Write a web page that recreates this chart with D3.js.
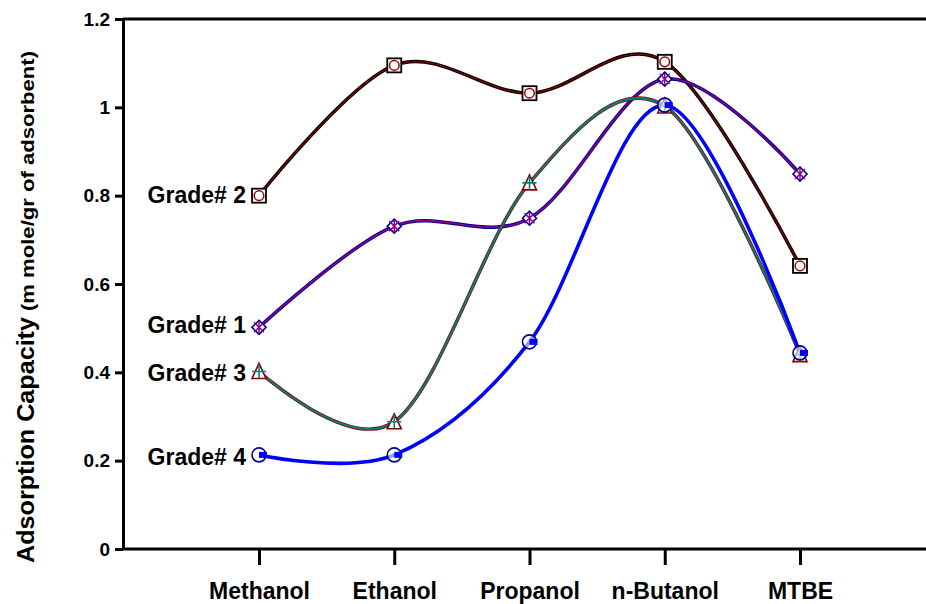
<!DOCTYPE html>
<html>
<head>
<meta charset="utf-8">
<script src="https://cdn.jsdelivr.net/npm/d3@7"></script>
<style>
  body { margin: 0; background: #fff; }
  svg text { font-family: Arial, "Liberation Sans", sans-serif; font-weight: bold; fill: #000; }
</style>
</head>
<body>
<div id="chart"></div>
<script>
"use strict";

// data
var categories = ["Methanol", "Ethanol", "Propanol", "n-Butanol", "MTBE"];
var grade1 = [0.502, 0.731, 0.749, 1.064, 0.849];
var grade2 = [0.8, 1.095, 1.032, 1.103, 0.641];
var grade3 = [0.402, 0.288, 0.829, 1.003, 0.44];
var grade4 = [0.213, 0.213, 0.469, 1.005, 0.444];
var yTicks = [0, 0.2, 0.4, 0.6, 0.8, 1, 1.2];

function renderChart() {
    var W = 926, H = 604;
    var svg = d3.select("#chart").append("svg")
        .attr("width", W)
        .attr("height", H);

    var left = 123, top = 19, bottom = 549;

    var x = d3.scalePoint().domain(categories).range([259, 800]),
        y = d3.scaleLinear().domain([0, 1.2]).range([bottom, top]);

    // top line of the frame
    svg.append("line")
        .attr("x1", left).attr("x2", W)
        .attr("y1", y(1.2)).attr("y2", y(1.2))
        .attr("stroke", "#000").attr("stroke-width", 3);

    // x axis
    var gx = svg.append("g")
        .attr("transform", "translate(0," + bottom + ")")
        .call(d3.axisBottom(x).tickSize(16).tickPadding(18).tickSizeOuter(0));
    gx.select(".domain").remove();
    gx.append("line").attr("x1", left).attr("x2", W)
        .attr("stroke", "#000").attr("stroke-width", 3);
    gx.selectAll(".tick line").attr("stroke-width", 3);
    gx.selectAll(".tick text").style("font-size", "23px").attr("fill", "#000");

    // y axis
    var gy = svg.append("g")
        .attr("transform", "translate(" + left + ",0)")
        .call(d3.axisLeft(y).tickValues(yTicks).tickFormat(d3.format("")).tickSize(8).tickPadding(5).tickSizeOuter(0));
    gy.select(".domain").attr("stroke-width", 3);
    gy.selectAll(".tick line").attr("stroke-width", 3);
    gy.selectAll(".tick text").style("font-size", "19px").attr("fill", "#000");

    // y title, two parts
    svg.append("text")
        .attr("transform", "translate(34,563) rotate(-90)")
        .attr("textLength", 246).attr("lengthAdjust", "spacingAndGlyphs")
        .style("font-size", "23px")
        .text("Adsorption Capacity");
    svg.append("text")
        .attr("transform", "translate(34,311) rotate(-90)")
        .attr("textLength", 260).attr("lengthAdjust", "spacingAndGlyphs")
        .style("font-size", "18px")
        .text("(m mole/gr of adsorbent)");

    var line = d3.line()
        .x(function (d, i) { return x(categories[i]); })
        .y(function (d) { return y(d); })
        .curve(d3.curveCardinal.tension(0));

    var series = [
        { name: "Grade# 2", vals: grade2, outer: "#000", inner: "#800000", ow: 3.5, iw: 1.3, dy: 7 },
        { name: "Grade# 1", vals: grade1, outer: "#00008b", inner: "#8b008b", ow: 3.5, iw: 1.6, dy: 6 },
        { name: "Grade# 3", vals: grade3, outer: "#8b0000", inner: "#008080", ow: 3.5, iw: 2, dy: 10 },
        { name: "Grade# 4", vals: grade4, outer: "#0000ff", inner: null, ow: 3.6, iw: 0, dy: 10 }
    ];

    series.forEach(function (s) {
        svg.append("path").datum(s.vals).attr("d", line)
            .attr("fill", "none").attr("stroke", s.outer).attr("stroke-width", s.ow);
        if (s.inner) {
            svg.append("path").datum(s.vals).attr("d", line)
                .attr("fill", "none").attr("stroke", s.inner).attr("stroke-width", s.iw);
        }
    });

    function pts(vals) {
        return vals.map(function (v, i) { return { x: x(categories[i]), y: y(v) }; });
    }
    function place(d) { return "translate(" + d.x + "," + d.y + ")"; }

    // grade 2: square with circle
    var m2 = svg.selectAll(".m2").data(pts(grade2)).enter().append("g").attr("transform", place);
    m2.append("rect").attr("x", -7).attr("y", -7).attr("width", 14).attr("height", 14)
        .attr("fill", "#fff").attr("stroke", "#000").attr("stroke-width", 1.8);
    m2.append("circle").attr("r", 4.8).attr("fill", "none").attr("stroke", "#a00000").attr("stroke-width", 1.5);

    // grade 1: diamond with asterisk
    var m1 = svg.selectAll(".m1").data(pts(grade1)).enter().append("g").attr("transform", place);
    m1.append("path").attr("d", "M0,-7L7,0L0,7L-7,0Z")
        .attr("fill", "#fff").attr("stroke", "#00008b").attr("stroke-width", 1.6);
    m1.append("path").attr("d", "M-5,-5L5,5M-5,5L5,-5M0,-6L0,6")
        .attr("stroke", "#8b008b").attr("stroke-width", 1.5);

    // grade 3: triangle with plus
    var m3 = svg.selectAll(".m3").data(pts(grade3)).enter().append("g").attr("transform", place);
    m3.append("path").attr("d", "M0,-8L7,7L-7,7Z")
        .attr("fill", "#fff").attr("stroke", "#8b0000").attr("stroke-width", 1.6);
    m3.append("path").attr("d", "M-7,0L7,0M0,-7L0,7")
        .attr("stroke", "#008080").attr("stroke-width", 1.6);

    // grade 4: circle with half square
    var m4 = svg.selectAll(".m4").data(pts(grade4)).enter().append("g").attr("transform", place);
    m4.append("circle").attr("r", 7).attr("fill", "#fff").attr("fill-opacity", 0.6)
        .attr("stroke", "#00008b").attr("stroke-width", 1.6);
    m4.append("rect").attr("x", 0).attr("y", -3).attr("width", 8).attr("height", 6)
        .attr("fill", "#0000ff");

    // series labels next to the first point
    series.forEach(function (s) {
        svg.append("text")
            .attr("x", 246)
            .attr("y", y(s.vals[0]) + s.dy)
            .attr("text-anchor", "end")
            .style("font-size", "23px")
            .text(s.name);
    });
}

renderChart();
</script>
</body>
</html>
